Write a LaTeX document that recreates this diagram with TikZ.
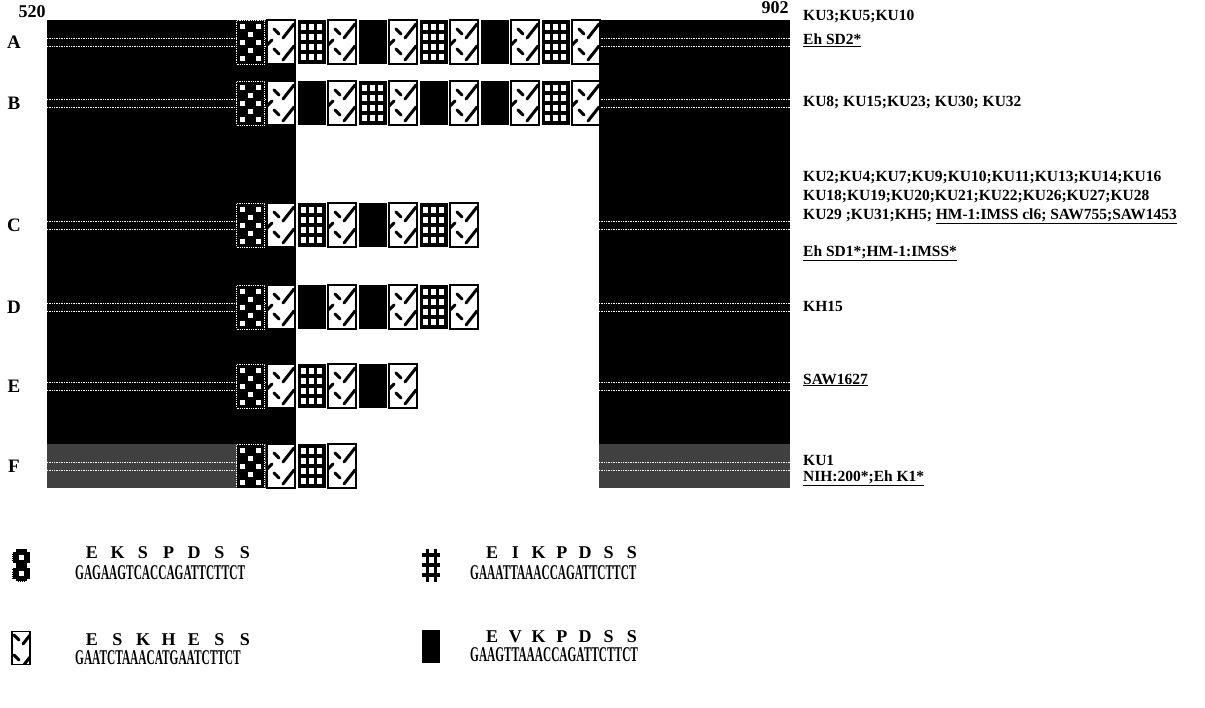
\documentclass[tikz,border=0pt]{standalone}
\usepackage{fontspec}
\setmainfont{Liberation Serif}
\usepackage{graphicx}
\usetikzlibrary{positioning}
\tikzset{
    motif/.style={minimum width=28, minimum height=44, inner sep=0pt, outer sep=0pt},
    chk/.style={motif, fill=black, draw=white, densely dotted, line width=0.8, path picture={
        \begin{scope}[shift={(path picture bounding box.center)}, #1]
          \foreach \u/\v in {-8/-16,8/-16,0/-8,-8/0,8/0,0/8,-8/16,8/16}
            \fill[white] (\u-2.5,\v-2.5) rectangle ++(5,5);
        \end{scope}}},
    chk/.default={},
    grd/.style={motif, fill=black, path picture={
        \begin{scope}[shift={(path picture bounding box.center)}, #1]
          \foreach \u in {-8,0,8} \foreach \v in {-15,-5,5,15}
            \fill[white] (\u-2.5,\v-3) rectangle ++(5,6);
        \end{scope}}},
    grd/.default={},
    sla/.style={motif, fill=white, draw=black, line width=1.6, path picture={
        \begin{scope}[shift={(path picture bounding box.center)}, #1, line width=3, line cap=round]
          \draw (-7,-13) -- (-2,-8);
          \draw (-7,7) -- (-2,12);
          \draw (2,-4) -- (13,-18);
          \draw (2,18) -- (13,4);
          \draw (-14,3) -- (-9,-2);
        \end{scope}}},
    sla/.default={},
    blk/.style={motif, fill=black},
    block/.style={fill=black, inner sep=0pt, outer sep=0pt, anchor=north west},
    scanline/.style={white, densely dotted, line width=0.7},
    rowlab/.style={font=\fontsize{19}{19}\selectfont\bfseries, inner sep=0pt},
    numlab/.style={font=\fontsize{18}{18}\selectfont\bfseries, inner sep=0pt},
    strain/.style={anchor=west, inner sep=0pt, font=\fontsize{15.5}{15.5}\selectfont\bfseries},
    aa/.style={font=\fontsize{18}{18}\selectfont\bfseries, inner sep=0pt},
    seq/.style={anchor=west, inner sep=0pt, font=\fontsize{21}{21}\selectfont\bfseries}
}

\begin{document}
\begin{tikzpicture}[x=1pt, y=-1pt]
  \useasboundingbox (0,0) rectangle (1205,707);
  % flanking regions
  \node[block, minimum width=249, minimum height=468](lblk) at (47,20){};
  \node[block, minimum width=191, minimum height=468](rblk) at (599,20){};
  \fill[black!75] (47,444) rectangle (296,488);
  \fill[black!75] (599,444) rectangle (790,488);
  \node[numlab](start) at (32,12){520};
  \node[numlab](stop) at (775,8){902};
  % repeat rows
  \foreach \r/\y/\l in {A/42/{chk,sla,grd,sla,blk,sla,grd,sla,blk,sla,grd,sla},
                        B/103/{chk,sla,blk,sla,grd,sla,blk,sla,blk,sla,grd,sla},
                        C/225/{chk,sla,grd,sla,blk,sla,grd,sla},
                        D/307/{chk,sla,blk,sla,blk,sla,grd,sla},
                        E/386/{chk,sla,grd,sla,blk,sla},
                        F/466/{chk,sla,grd,sla}}{
    \draw[scanline] (47,\y-4) -- (296,\y-4) (47,\y+4) -- (296,\y+4);
    \draw[scanline] (599,\y-4) -- (790,\y-4) (599,\y+4) -- (790,\y+4);
    \node[rowlab](lab\r) at (14,\y){\r};
    \foreach \t [count=\i] in \l
      \node[\t](\r\i) at ({220+30.5*\i},\y){};
  }
  % strains
  \node[strain](sA1) at (803,17){KU3;KU5;KU10};
  \node[strain](sA2) at (803,40){\underline{Eh SD2*}};
  \node[strain](sB1) at (803,103){KU8; KU15;KU23; KU30; KU32};
  \node[strain](sC1) at (803,178){KU2;KU4;KU7;KU9;KU10;KU11;KU13;KU14;KU16};
  \node[strain](sC2) at (803,197){KU18;KU19;KU20;KU21;KU22;KU26;KU27;KU28};
  \node[strain](sC3) at (803,216){KU29 ;KU31;KH5; \underline{HM-1:IMSS cl6; SAW755;SAW1453}};
  \node[strain](sC4) at (803,253){\underline{Eh SD1*;HM-1:IMSS*}};
  \node[strain](sD1) at (803,306){KH15};
  \node[strain](sE1) at (803,380){\underline{SAW1627}};
  \node[strain](sF1) at (803,460){KU1};
  \node[strain](sF2) at (803,478){\underline{NIH:200*;Eh K1*}};
  % key
  \node[chk={xscale=.64,yscale=.75}, minimum width=18, minimum height=33](key1) at (21,565){};
  \foreach \a [count=\i] in {E,K,S,P,D,S,S}
    \node[aa](aa1\i) at ({92+25.5*(\i-1)},553){\a};
  \node[seq](seq1) at (75,573){\scalebox{.54}[1]{GAGAAGTCACCAGATTCTTCT}};
  \node[grd={xscale=.64,yscale=.75}, minimum width=18, minimum height=33](key2) at (431,565){};
  \foreach \a [count=\i] in {E,I,K,P,D,S,S}
    \node[aa](aa2\i) at ({492+23.3*(\i-1)},553){\a};
  \node[seq](seq2) at (470,573){\scalebox{.54}[1]{GAAATTAAACCAGATTCTTCT}};
  \node[sla={xscale=.64,yscale=.75}, minimum width=18, minimum height=33](key3) at (21,648){};
  \foreach \a [count=\i] in {E,S,K,H,E,S,S}
    \node[aa](aa3\i) at ({92+25.5*(\i-1)},640){\a};
  \node[seq](seq3) at (75,658){\scalebox{.54}[1]{GAATCTAAACATGAATCTTCT}};
  \node[blk, minimum width=18, minimum height=33](key4) at (431,646){};
  \foreach \a [count=\i] in {E,V,K,P,D,S,S}
    \node[aa](aa4\i) at ({492+23.3*(\i-1)},637){\a};
  \node[seq](seq4) at (470,655){\scalebox{.54}[1]{GAAGTTAAACCAGATTCTTCT}};
\end{tikzpicture}
\end{document}
